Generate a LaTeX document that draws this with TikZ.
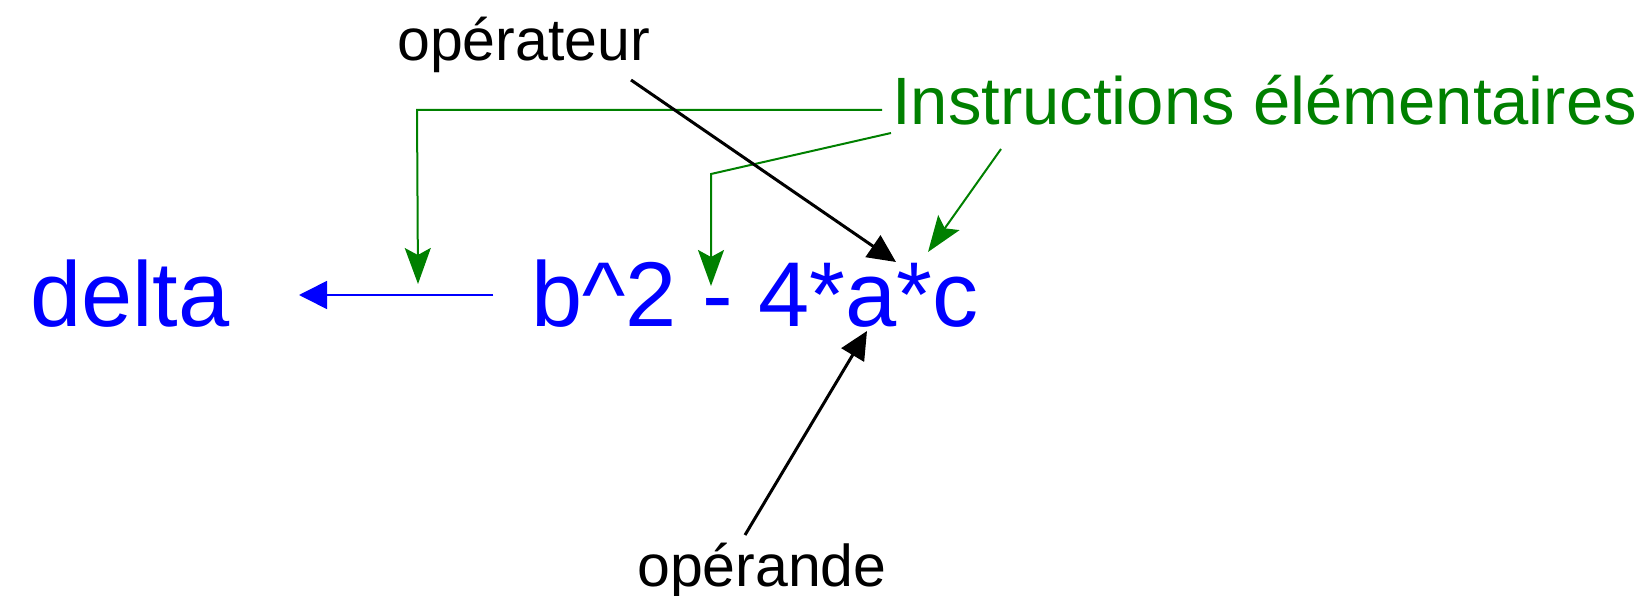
\documentclass[tikz,border=0pt]{standalone}
\usepackage{fontspec}
\setmainfont{Liberation Sans}
\usetikzlibrary{arrows.meta}
\definecolor{igreen}{RGB}{0,128,0}
\definecolor{iblue}{RGB}{0,0,255}
\tikzset{
  txt/.style={inner sep=0pt, anchor=base west},
  bluetxt/.style={txt, text=iblue, font=\fontsize{92}{100}\selectfont},
  blacktxt/.style={txt, text=black, font=\fontsize{59}{70}\selectfont},
  greentxt/.style={txt, text=igreen, font=\fontsize{67}{80}\selectfont},
  bluearr/.style={draw=iblue, line width=1.6pt, -{Triangle[length=28pt,width=28pt]}, fill=iblue},
  blackarr/.style={draw=black, line width=3pt, -{Triangle[length=28pt,width=26pt]}},
  greenarr/.style={draw=igreen, line width=2pt, -{Stealth[length=36pt,width=26pt,inset=7pt]}},
}
\begin{document}
\begin{tikzpicture}[x=1pt,y=-1pt]
\useasboundingbox (0,0) rectangle (1645,596);
% texts
\node[bluetxt] (delta) at (30,326) {delta};
\node[bluetxt] (expr) at (531,326) {b\^{}2 - 4*a*c};
\node[blacktxt] (oper) at (397,61) {opérateur};
\node[blacktxt] (operande) at (637,586) {opérande};
\node[greentxt] (instr) at (892,125) {Instructions élémentaires};
% connector ends
\coordinate (bS) at (493,295);
\coordinate (bT) at (299,295);
\coordinate (g1S) at (882,110);
\coordinate (g1C) at (417,110);
\coordinate (g1T) at (418,284);
\coordinate (g2S) at (891,133);
\coordinate (g2C) at (711,174);
\coordinate (g2T) at (711,286);
\coordinate (g3S) at (1001,149);
\coordinate (g3T) at (928,252);
\coordinate (kS) at (631,80);
\coordinate (kT) at (896,262);
\coordinate (oS) at (745,535);
\coordinate (oT) at (867,331);
% connectors
\draw[bluearr] (bS) -- (bT);
\draw[greenarr] (g1S) -- (g1C) -- (g1T);
\draw[greenarr] (g2S) -- (g2C) -- (g2T);
\draw[greenarr] (g3S) -- (g3T);
\draw[blackarr] (kS) -- (kT);
\draw[blackarr] (oS) -- (oT);
\end{tikzpicture}
\end{document}
